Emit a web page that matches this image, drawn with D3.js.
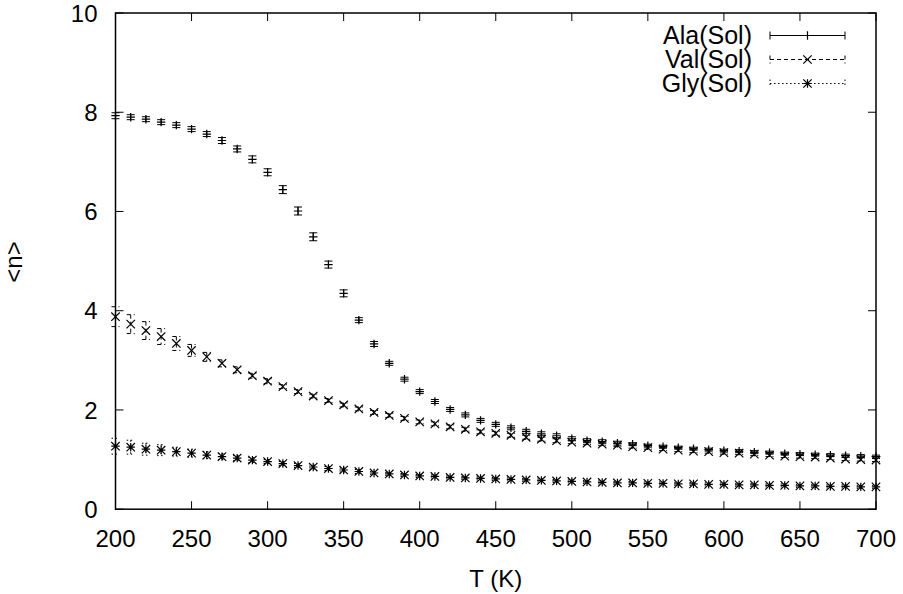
<!DOCTYPE html>
<html><head><meta charset="utf-8">
<script src="https://cdn.jsdelivr.net/npm/d3@7"></script>
<style>
html,body{margin:0;padding:0;background:#fff;}
text{font-family:"Liberation Sans",Arial,Helvetica,sans-serif;fill:#000;}
</style></head>
<body>
<script>
const temps = [200,210,220,230,240,250,260,270,280,290,300,310,320,330,340,350,360,370,380,390,400,410,420,430,440,450,460,470,480,490,500,510,520,530,540,550,560,570,580,590,600,610,620,630,640,650,660,670,680,690,700];
const ala = [7.93,7.90,7.86,7.80,7.74,7.66,7.56,7.43,7.26,7.05,6.79,6.44,6.01,5.49,4.93,4.35,3.81,3.33,2.94,2.62,2.37,2.17,2.01,1.90,1.79,1.71,1.64,1.57,1.52,1.48,1.42,1.38,1.36,1.33,1.31,1.28,1.26,1.24,1.22,1.20,1.18,1.17,1.15,1.14,1.12,1.11,1.10,1.09,1.08,1.07,1.06];
const alaErr = [0.06,0.05,0.05,0.05,0.05,0.05,0.05,0.06,0.06,0.07,0.07,0.08,0.08,0.08,0.07,0.07,0.05,0.05,0.04,0.04,0.04,0.04,0.04,0.04,0.04,0.04,0.04,0.04,0.04,0.04,0.04,0.04,0.04,0.04,0.03,0.03,0.03,0.03,0.03,0.03,0.03,0.03,0.03,0.03,0.03,0.03,0.03,0.03,0.03,0.03,0.03];
const val = [3.88,3.73,3.60,3.48,3.34,3.20,3.07,2.94,2.81,2.69,2.58,2.47,2.37,2.28,2.19,2.10,2.02,1.95,1.89,1.83,1.76,1.72,1.66,1.61,1.56,1.53,1.49,1.45,1.41,1.38,1.35,1.33,1.31,1.29,1.26,1.24,1.21,1.19,1.17,1.16,1.14,1.13,1.11,1.09,1.07,1.06,1.05,1.03,1.01,1.00,0.99];
const valErr = [0.20,0.19,0.18,0.16,0.14,0.12,0.09,0.07,0.06,0.05,0.05,0.04,0.04,0.04,0.04,0.04,0.04,0.04,0.04,0.04,0.04,0.04,0.04,0.04,0.04,0.04,0.04,0.04,0.04,0.04,0.03,0.03,0.03,0.03,0.03,0.03,0.03,0.03,0.03,0.03,0.03,0.03,0.03,0.03,0.03,0.03,0.03,0.03,0.03,0.03,0.03];
const gly = [1.27,1.25,1.21,1.19,1.16,1.13,1.09,1.06,1.03,0.99,0.96,0.92,0.88,0.85,0.82,0.79,0.76,0.73,0.71,0.69,0.67,0.66,0.64,0.63,0.62,0.61,0.60,0.59,0.58,0.57,0.56,0.55,0.54,0.53,0.53,0.52,0.52,0.51,0.51,0.50,0.50,0.49,0.49,0.48,0.48,0.47,0.47,0.46,0.46,0.45,0.45];
const glyErr = [0.16,0.14,0.12,0.11,0.09,0.08,0.07,0.06,0.05,0.05,0.04,0.04,0.04,0.04,0.04,0.04,0.04,0.03,0.03,0.03,0.03,0.03,0.03,0.03,0.03,0.03,0.03,0.03,0.03,0.03,0.03,0.03,0.03,0.03,0.03,0.03,0.03,0.03,0.03,0.03,0.03,0.03,0.03,0.03,0.03,0.03,0.03,0.03,0.03,0.03,0.03];
const seriesNames = ["Ala(Sol)","Val(Sol)","Gly(Sol)"];
const xTicks = [200,250,300,350,400,450,500,550,600,650,700];
const yTicks = [0,2,4,6,8,10];

const W = 903, H = 594;
const L = 115.5, R = 876, T = 13, B = 509.2;
const svg = d3.select("body").append("svg").attr("width", W).attr("height", H);
const x = d3.scaleLinear().domain([200,700]).range([L,R]);
const y = d3.scaleLinear().domain([0,10]).range([B,T]);

const series = [
  {name: seriesNames[0], v: ala, e: alaErr, marker: "plus", dash: null},
  {name: seriesNames[1], v: val, e: valErr, marker: "cross", dash: "4,3"},
  {name: seriesNames[2], v: gly, e: glyErr, marker: "star", dash: "1.5,2.5"}
];

function markerPath(type, cx, cy, s) {
  const p = d3.path();
  if (type === "plus" || type === "star") {
    p.moveTo(cx - s, cy); p.lineTo(cx + s, cy);
    p.moveTo(cx, cy - s); p.lineTo(cx, cy + s);
  }
  if (type === "cross" || type === "star") {
    p.moveTo(cx - s, cy - s); p.lineTo(cx + s, cy + s);
    p.moveTo(cx - s, cy + s); p.lineTo(cx + s, cy - s);
  }
  return p.toString();
}

const cap = 4, ms = 4.2;
series.forEach(s => {
  const g = svg.append("g");
  temps.forEach((t, i) => {
    const cx = x(t), y1 = y(s.v[i] + s.e[i]), y0 = y(s.v[i] - s.e[i]);
    const eb = d3.path();
    eb.moveTo(cx, y1); eb.lineTo(cx, y0);
    eb.moveTo(cx - cap, y1); eb.lineTo(cx + cap, y1);
    eb.moveTo(cx - cap, y0); eb.lineTo(cx + cap, y0);
    g.append("path").attr("d", eb.toString()).attr("stroke", "#000").attr("stroke-width", 1)
      .attr("fill", "none").attr("stroke-dasharray", s.dash);
    g.append("path").attr("d", markerPath(s.marker, cx, y(s.v[i]), ms))
      .attr("stroke", "#000").attr("stroke-width", 1.2).attr("fill", "none");
  });
});

// border & ticks
const ax = svg.append("g").attr("stroke", "#000").attr("stroke-width", 1.5).attr("fill", "none");
ax.append("rect").attr("x", L).attr("y", T).attr("width", R - L).attr("height", B - T);
xTicks.forEach(t => {
  ax.append("line").attr("x1", x(t)).attr("x2", x(t)).attr("y1", B).attr("y2", B - 8).attr("stroke-width", 1);
  ax.append("line").attr("x1", x(t)).attr("x2", x(t)).attr("y1", T).attr("y2", T + 8).attr("stroke-width", 1);
  svg.append("text").attr("x", x(t)).attr("y", 546.5).attr("text-anchor", "middle")
    .style("font-size", "24px").text(t);
});
yTicks.forEach(v => {
  ax.append("line").attr("x1", L).attr("x2", L + 8).attr("y1", y(v)).attr("y2", y(v)).attr("stroke-width", 1);
  ax.append("line").attr("x1", R).attr("x2", R - 8).attr("y1", y(v)).attr("y2", y(v)).attr("stroke-width", 1);
  svg.append("text").attr("x", 97.5).attr("y", y(v) + 8.6).attr("text-anchor", "end")
    .style("font-size", "24px").text(v);
});

svg.append("text").attr("x", (L + R) / 2).attr("y", 587).attr("text-anchor", "middle")
  .style("font-size", "24px").text("T (K)");
svg.append("text").attr("transform", "translate(22,262) rotate(-90)").attr("text-anchor", "middle")
  .style("font-size", "24px").text("<n>");

// legend
series.forEach((s, i) => {
  const cy = 35.5 + i * 24;
  svg.append("text").attr("x", 752).attr("y", cy + 8.6).attr("text-anchor", "end")
    .style("font-size", "25px").text(s.name);
  const x0 = 770, x1 = 845, xm = (x0 + x1) / 2;
  const lp = d3.path();
  lp.moveTo(x0, cy); lp.lineTo(x1, cy);
  lp.moveTo(x0, cy - 4); lp.lineTo(x0, cy + 4);
  lp.moveTo(x1, cy - 4); lp.lineTo(x1, cy + 4);
  svg.append("path").attr("d", lp.toString()).attr("stroke", "#000").attr("stroke-width", 1)
    .attr("fill", "none").attr("stroke-dasharray", s.dash);
  svg.append("path").attr("d", markerPath(s.marker, xm, cy, ms))
    .attr("stroke", "#000").attr("stroke-width", 1.2).attr("fill", "none");
});
</script>
</body></html>
